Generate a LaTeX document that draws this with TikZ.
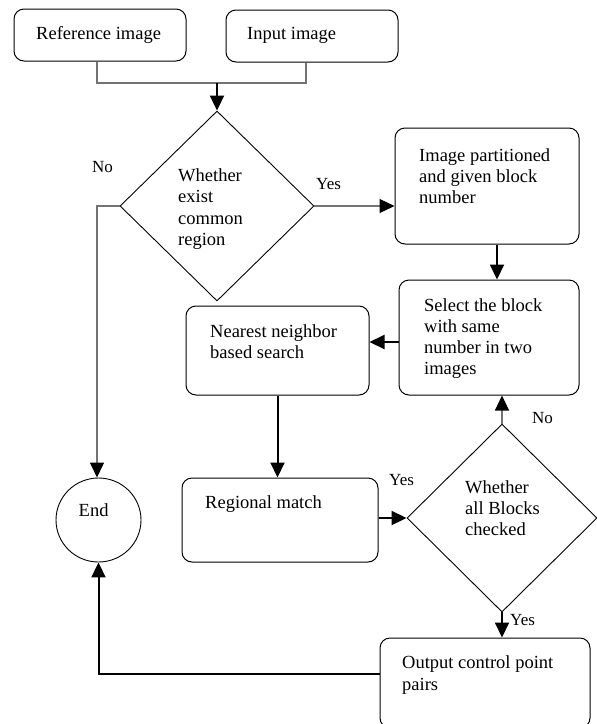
\documentclass[tikz,border=0pt]{standalone}
\usepackage{fontspec}
\setmainfont{Liberation Serif}
\usetikzlibrary{arrows.meta,shapes.geometric}
\tikzset{
  box/.style={draw=black, line width=1pt, rounded corners=10pt, inner sep=0pt},
  dia/.style={draw=black, line width=0.9pt, diamond, inner sep=0pt},
  circ/.style={draw=black, line width=0.9pt, ellipse, inner sep=0pt},
  txt/.style={inner sep=0pt, align=left, anchor=north west, font=\fontsize{18.5}{21.3}\selectfont},
  stxt/.style={inner sep=0pt, anchor=base west, font=\fontsize{18.5}{21.3}\selectfont},
  lbl/.style={inner sep=0pt, anchor=base west, font=\fontsize{17}{20}\selectfont},
  tip/.style={-{Triangle[length=15pt,width=14pt,color=black]}},
  thinl/.style={draw=black!55, line width=1.2pt},
  thickl/.style={draw=black, line width=2pt},
}
\begin{document}
\begin{tikzpicture}[x=1pt,y=-1pt]
\useasboundingbox (0,0) rectangle (597,724);
% nodes
\node[box, minimum width=172pt, minimum height=52pt] (ref) at (100,35) {};
\node[box, minimum width=172pt, minimum height=52pt] (inp) at (312,36) {};
\node[dia, minimum width=194pt, minimum height=190pt] (d1) at (217,206) {};
\node[box, minimum width=184pt, minimum height=116pt] (part) at (487,186) {};
\node[box, minimum width=180pt, minimum height=115pt] (sel) at (489,337.5) {};
\node[box, minimum width=183pt, minimum height=89pt] (near) at (277.5,350.5) {};
\node[box, minimum width=196pt, minimum height=84pt] (reg) at (280,520) {};
\node[dia, minimum width=190pt, minimum height=188pt] (d2) at (502,518) {};
\node[box, minimum width=210pt, minimum height=90pt] (out) at (485,683) {};
\node[circ, minimum width=85pt, minimum height=84pt] (end) at (98.5,520) {};
% texts
\node[stxt] (tref) at (36,39) {Reference image};
\node[stxt] (tinp) at (247,39.5) {Input image};
\node[txt] (td1) at (178,168.4) {Whether\\exist\\common\\region};
\node[txt] (tpart) at (419,148) {Image partitioned\\and given block\\number};
\node[txt] (tsel) at (424,298) {Select the block\\with same\\number in two\\images};
\node[txt] (tnear) at (210,324) {Nearest neighbor\\based search};
\node[stxt] (treg) at (205,508) {Regional match};
\node[txt] (td2) at (465,480) {Whether\\all Blocks\\checked};
\node[txt] (tout) at (402,655.7) {Output control point\\pairs};
\node[stxt] (tend) at (78.5,516.7) {End};
% labels
\node[lbl] (lno1) at (92,172) {No};
\node[lbl] (lyes1) at (316,189) {Yes};
\node[lbl] (lyes2) at (389,485) {Yes};
\node[lbl] (lno2) at (532,423) {No};
\node[lbl] (lyes3) at (510,625) {Yes};
% connectors
\coordinate (j) at (217,83);
\draw[thinl] ([xshift=-3pt]ref.south) |- (j) -| ([xshift=-6pt]inp.south);
\draw[thickl, tip] (j) -- (d1.north);
\draw[thinl, tip] (d1.east) -- (d1.east -| part.west);
\draw[thinl, tip] (d1.west) -| ([xshift=-1.5pt]end.north);
\draw[thickl, tip] ([xshift=10pt]part.south) -- ([xshift=10pt]part.south |- sel.north);
\draw[thickl, tip] ([yshift=-4.5pt]sel.west) -- ([yshift=-4.5pt]sel.west -| near.east);
\draw[thickl, tip] (near.south) -- (near.south |- reg.north);
\draw[thickl, tip] (reg.east |- d2.west) -- (d2.west);
\draw[thinl, tip] (d2.north) -- (d2.north |- sel.south);
\draw[thickl, tip] (d2.south) -- (out.north -| d2.south);
\draw[thickl, tip] ([yshift=9pt]out.west) -| (end.south);
\end{tikzpicture}
\end{document}
